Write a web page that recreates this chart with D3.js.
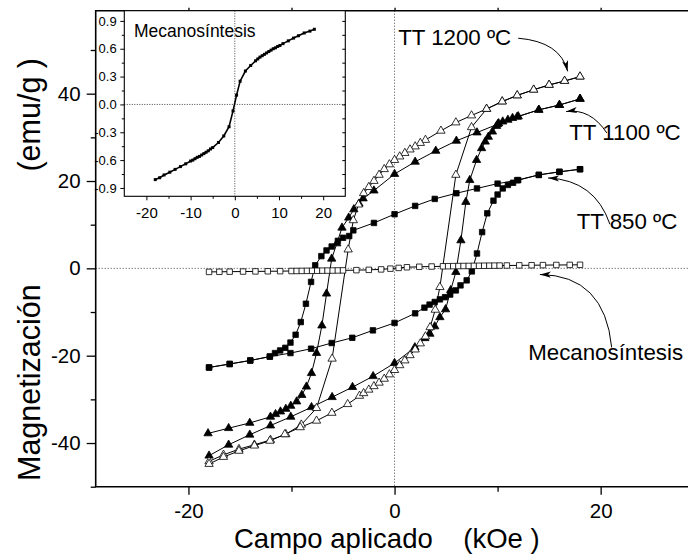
<!DOCTYPE html>
<html>
<head>
<meta charset="utf-8">
<script src="https://cdn.jsdelivr.net/npm/d3@7"></script>
<style>
  body { margin: 0; background: #fff; }
  text { font-family: "Liberation Sans", Arial, sans-serif; fill: #000; }
</style>
</head>
<body>
<div id="chart"></div>
<script>
// ---- data (H in kOe, M in emu/g) ----

// as-milled sample (open squares), also shown in the inset
const mecH = [-18,-17,-16,-14.7,-13.5,-12.3,-11.1,-10,-9.5,-9,-8.5,-8,-7.5,-7,-6.5,-6,-5.5,-5,-3.7,-2.5,-1.3,-0.4,0.4,1.2,2.4,3.6,4.7,5.2,5.7,6.2,6.7,7.2,7.7,8.2,8.7,9.2,9.7,10.2,10.9,12.1,13.3,14.4,15.7,17,18];
const mecM = [-0.81,-0.79,-0.76,-0.73,-0.70,-0.67,-0.64,-0.61,-0.60,-0.585,-0.57,-0.56,-0.545,-0.53,-0.515,-0.50,-0.48,-0.465,-0.41,-0.34,-0.24,-0.07,0.10,0.25,0.36,0.42,0.47,0.49,0.51,0.525,0.54,0.555,0.57,0.585,0.60,0.61,0.625,0.635,0.655,0.685,0.715,0.74,0.77,0.79,0.81];

// TT 850 ºC (filled squares)
const tt850UpH = [18,16,14,12,10,8,6,3.9,2,0,-2,-4,-4.4,-5,-5.5,-6.1,-6.6,-7.1,-7.7,-8.1,-8.6,-9.1,-9.6,-10.1,-10.6,-11.1,-11.6,-12.1,-14,-16,-18];
const tt850UpM = [22.7,22.1,21.4,20.2,19.4,18.3,17.2,15.9,14.3,12.4,10.4,8.7,7.4,7.0,6.3,5.0,4.1,2.8,0.7,-3.1,-8.1,-12.3,-15.2,-17.0,-18.2,-18.8,-19.4,-20.2,-21.1,-21.9,-22.7];
const tt850LowH = [-18,-16,-14,-12.1,-10.1,-8.1,-6.1,-4.1,-2.1,0,2,2.9,3.4,3.9,4.4,4.9,5.4,5.95,6.4,7,7.5,8,8.5,9,9.6,10,10.5,11,11.5,11.9,14,16,18];
const tt850LowM = [-22.7,-21.9,-21.1,-20.2,-19.4,-18.4,-17.1,-15.9,-14.2,-12.5,-10.3,-9.0,-8.3,-7.7,-7.1,-6.6,-6.0,-5.05,-3.9,-2.75,-0.7,3.4,8.3,12.6,15.5,16.9,18.3,19.1,19.6,20.2,21.4,22.1,22.7];

// TT 1100 ºC (filled triangles)
const tt1100UpH = [18,16,14,12,10,8,6,4,2,0,-2,-3.05,-3.45,-3.95,-4.45,-5.1,-5.6,-6.1,-6.6,-7.05,-7.57,-8.06,-8.55,-9,-9.5,-10.07,-10.55,-11.07,-11.55,-12.04,-14.05,-16.1,-18.1];
const tt1100UpM = [38.8,37.4,36.3,34.8,33.0,31.1,29.2,26.9,24.4,21.6,17.8,16.0,14.8,13.5,11.6,9.3,5.7,2.2,-5.8,-13.1,-19.4,-24.0,-27.1,-29.0,-30.5,-31.5,-32.2,-32.8,-33.4,-34.0,-35.4,-36.6,-37.8];
const tt1100LowH = [-18,-16.1,-14.05,-12.04,-10.07,-8.06,-6.06,-4.08,-2.08,0,1.97,2.94,3.43,3.9,4.4,4.95,5.45,5.95,6.44,6.92,7.3,7.96,8.45,8.8,9.1,9.5,9.9,10.1,10.5,11,11.45,11.9,14,16,18];
const tt1100LowM = [-42.9,-40.4,-38.1,-36.0,-34.0,-31.8,-29.5,-27.2,-24.7,-21.7,-18.1,-16.0,-15.0,-13.3,-11.2,-9.4,-5.0,-0.85,6.4,15.2,20.2,24.8,27.5,29.0,30.1,31.3,32.6,33.2,33.6,34.0,34.4,34.7,36.3,37.4,38.8];

// TT 1200 ºC (open triangles)
const tt1200UpH = [18,16.5,15,13.5,11.9,10.45,8.93,7.47,5.95,4.5,3,2.5,2,1.5,1,0.5,0,-0.5,-1,-1.5,-2,-2.5,-3,-3.5,-4,-4.5,-6.06,-7.57,-9.05,-10.55,-12.04,-13.6,-15.1,-16.6,-18];
const tt1200UpM = [43.9,42.9,42.0,40.9,39.6,38.2,36.5,35.0,33.4,31.5,29.4,28.7,27.9,27.2,26.4,25.6,24.8,23.8,22.7,21.4,20.0,18.6,17.2,14.6,11.0,4.3,-20.7,-32.0,-35.8,-38.0,-39.3,-40.4,-41.4,-42.7,-44.2];
const tt1200LowH = [-18,-16.6,-15.1,-13.6,-12.1,-10.65,-9.15,-7.57,-6.08,-4.55,-3.4,-3,-2.5,-2,-1.5,-1,-0.5,0,0.5,1,1.5,2,2.5,3,3.45,3.95,4.4,5.95,7.47,8.93,10.45,11.9,13.5,15,16.5,18];
const tt1200LowM = [-44.8,-43.2,-41.8,-40.6,-39.5,-38.0,-36.4,-34.9,-33.1,-31.1,-29.2,-28.6,-27.8,-27.0,-26.2,-25.3,-24.3,-23.3,-22.2,-21.1,-19.9,-18.6,-17.2,-15.6,-13.5,-9.5,-4.3,21.4,32.3,36.5,38.2,39.6,40.9,42.0,42.9,43.9];

// ticks
const xTicksMain = [-20, 0, 20];
const xMinorMain = [-10, 10];
const yTicksMain = [-40, -20, 0, 20, 40];
const yMinorMain = [-50, -30, -10, 10, 30, 50];
const xTicksInset = [-20, -10, 0, 10, 20];
const xMinorInset = [-15, -5, 5, 15];
const yTicksInset = [-0.9, -0.6, -0.3, 0, 0.3, 0.6, 0.9];
const yMinorInset = [-0.75, -0.45, -0.15, 0.15, 0.45, 0.75];

// labels: [text, H, M]
const labels = [
  ["TT 1200 ºC", 0.35, 51.2],
  ["TT 1100 ºC", 16.95, 29.4],
  ["TT 850 ºC", 17.67, 8.9],
  ["Mecanosíntesis", 12.97, -21.1]
];
// arrows: start, control, tip (H, M)
const arrows = [
  [[12.0, 52.7], [16.1, 51.9], [16.8, 45.1]],
  [[20.6, 31.0], [19.0, 36.7], [16.65, 35.9]],
  [[20.9, 10.1], [19.45, 20.2], [14.9, 20.7]],
  [[21.07, -18.1], [20.4, -1.6], [14.1, -1.4]]
];

function drawChart() {
  const dimensions = {
    width: 688,
    height: 554,
    left: 95.7,
    top: 10.7,
    bottom: 486.7
  };

  const svg = d3.select("#chart")
    .append("svg")
      .attr("width", dimensions.width)
      .attr("height", dimensions.height);

  const xScale = d3.scaleLinear()
    .domain([-29, 29])
    .range([dimensions.left, dimensions.left + 58 * 10.305]);

  const yScale = d3.scaleLinear()
    .domain([-50, 59])
    .range([dimensions.bottom, dimensions.top]);

  // zero lines
  svg.append("line")
    .attr("x1", dimensions.left).attr("x2", dimensions.width)
    .attr("y1", yScale(0)).attr("y2", yScale(0))
    .attr("stroke", "#444").attr("stroke-width", 1)
    .attr("stroke-dasharray", "1,2");
  svg.append("line")
    .attr("x1", xScale(0)).attr("x2", xScale(0))
    .attr("y1", dimensions.top).attr("y2", dimensions.bottom)
    .attr("stroke", "#444").attr("stroke-width", 1)
    .attr("stroke-dasharray", "1,2");

  const line = d3.line()
    .x(d => xScale(d[0]))
    .y(d => yScale(d[1]));

  const zip = (h, m) => h.map((v, i) => [v, m[i]]);

  const series = [
    { branches: [zip(tt850UpH, tt850UpM), zip(tt850LowH, tt850LowM)], type: d3.symbolSquare, size: 30, fill: "#000" },
    { branches: [zip(tt1100UpH, tt1100UpM), zip(tt1100LowH, tt1100LowM)], type: d3.symbolTriangle, size: 30, fill: "#000" },
    { branches: [zip(tt1200UpH, tt1200UpM), zip(tt1200LowH, tt1200LowM)], type: d3.symbolTriangle, size: 30, fill: "#fff" },
    { branches: [zip(mecH, mecM)], type: d3.symbolSquare, size: 30, fill: "#fff" }
  ];

  series.forEach(s => {
    const g = svg.append("g");
    s.branches.forEach(b => {
      g.append("path")
        .attr("d", line(b))
        .attr("fill", "none")
        .attr("stroke", "#000")
        .attr("stroke-width", 1);
    });
    s.branches.forEach(b => {
      g.selectAll(null)
        .data(b)
        .join("path")
          .attr("d", d3.symbol().type(s.type).size(s.size))
          .attr("transform", d => `translate(${xScale(d[0])},${yScale(d[1])})`)
          .attr("fill", s.fill)
          .attr("stroke", "#000")
          .attr("stroke-width", 0.8);
    });
  });

  // axes
  const fmt = d => String(d);
  const xAxis = svg.append("g")
    .attr("transform", `translate(0,${dimensions.bottom})`)
    .call(d3.axisBottom(xScale).tickValues(xTicksMain).tickSize(8).tickSizeOuter(0).tickFormat(fmt));
  xAxis.select(".domain").remove();
  svg.append("g")
    .attr("transform", `translate(0,${dimensions.bottom})`)
    .call(d3.axisBottom(xScale).tickValues(xMinorMain).tickSize(5).tickFormat(""))
    .select(".domain").remove();

  const yAxis = svg.append("g")
    .attr("transform", `translate(${dimensions.left},0)`)
    .call(d3.axisLeft(yScale).tickValues(yTicksMain).tickSize(9).tickSizeOuter(0).tickFormat(fmt));
  yAxis.select(".domain").remove();
  svg.append("g")
    .attr("transform", `translate(${dimensions.left},0)`)
    .call(d3.axisLeft(yScale).tickValues(yMinorMain).tickSize(5).tickFormat(""))
    .select(".domain").remove();

  // top axis ticks
  svg.append("g")
    .attr("transform", `translate(0,${dimensions.top})`)
    .call(d3.axisTop(xScale).tickValues(xTicksMain.concat(xMinorMain)).tickSize(3).tickFormat(""))
    .select(".domain").remove();

  svg.selectAll(".tick line").attr("stroke", "#000").attr("stroke-width", 1.3);
  svg.selectAll(".tick text")
    .attr("font-size", 20.5)
    .attr("font-family", "Liberation Sans, Arial, sans-serif");
  xAxis.selectAll(".tick text").attr("dy", "1.0em");
  yAxis.selectAll(".tick text").attr("dx", "-0.15em");

  // frame lines
  svg.append("path")
    .attr("d", d3.line()([
      [dimensions.width, dimensions.top],
      [dimensions.left, dimensions.top],
      [dimensions.left, dimensions.bottom],
      [dimensions.width, dimensions.bottom]
    ]))
    .attr("fill", "none")
    .attr("stroke", "#000")
    .attr("stroke-width", 1.6);

  // axis titles
  svg.append("text")
    .attr("x", 234).attr("y", 548)
    .attr("text-anchor", "start")
    .attr("font-size", 27.5)
    .text("Campo aplicado\u00a0\u00a0\u00a0\u00a0(kOe )");
  svg.append("text")
    .attr("transform", "translate(40,481) rotate(-90)")
    .attr("text-anchor", "start")
    .attr("font-size", 30.5)
    .text("Magnetización");
  svg.append("text")
    .attr("transform", "translate(40,58) rotate(-90)")
    .attr("text-anchor", "end")
    .attr("font-size", 30.5)
    .text("(emu/g )");

  // annotations
  svg.append("defs").append("marker")
    .attr("id", "head")
    .attr("viewBox", "0 0 10 10")
    .attr("refX", 10).attr("refY", 5)
    .attr("markerWidth", 11).attr("markerHeight", 11)
    .attr("markerUnits", "userSpaceOnUse")
    .attr("orient", "auto")
    .append("path")
      .attr("d", "M0,2.2 L10,5 L0,7.8 L2.5,5 Z")
      .attr("fill", "#000");

  arrows.forEach(a => {
    const p = d3.path();
    p.moveTo(xScale(a[0][0]), yScale(a[0][1]));
    p.quadraticCurveTo(xScale(a[1][0]), yScale(a[1][1]), xScale(a[2][0]), yScale(a[2][1]));
    svg.append("path")
      .attr("d", p.toString())
      .attr("fill", "none")
      .attr("stroke", "#000")
      .attr("stroke-width", 1)
      .attr("marker-end", "url(#head)");
  });

  svg.selectAll(null)
    .data(labels)
    .join("text")
      .attr("x", d => xScale(d[1]))
      .attr("y", d => yScale(d[2]))
      .attr("font-size", 22.3)
      .text(d => d[0]);

  // ---- inset ----
  const inset = { left: 124.3, right: 345.3, top: 10.7, bottom: 196.3 };

  const ix = d3.scaleLinear().domain([-25, 25]).range([inset.left, inset.right]);
  const iy = d3.scaleLinear().domain([-0.99, 1.01]).range([inset.bottom, inset.top]);

  svg.append("rect")
    .attr("x", inset.left).attr("y", inset.top)
    .attr("width", inset.right - inset.left)
    .attr("height", inset.bottom - inset.top)
    .attr("fill", "#fff");

  svg.append("line")
    .attr("x1", inset.left).attr("x2", inset.right)
    .attr("y1", iy(0)).attr("y2", iy(0))
    .attr("stroke", "#444").attr("stroke-dasharray", "1,1.5");
  svg.append("line")
    .attr("x1", ix(0)).attr("x2", ix(0))
    .attr("y1", inset.top).attr("y2", inset.bottom)
    .attr("stroke", "#444").attr("stroke-dasharray", "1,1.5");

  const mec = zip(mecH, mecM);
  svg.append("path")
    .attr("d", d3.line().x(d => ix(d[0])).y(d => iy(d[1]))(mec))
    .attr("fill", "none")
    .attr("stroke", "#000")
    .attr("stroke-width", 1.6);
  svg.selectAll(null)
    .data(mec)
    .join("rect")
      .attr("x", d => ix(d[0]) - 1.5)
      .attr("y", d => iy(d[1]) - 1.5)
      .attr("width", 3).attr("height", 3)
      .attr("fill", "#000");

  const ixAxis = svg.append("g")
    .attr("transform", `translate(0,${inset.bottom})`)
    .call(d3.axisBottom(ix).tickValues(xTicksInset).tickSize(4).tickSizeOuter(0).tickFormat(fmt));
  ixAxis.select(".domain").remove();
  ixAxis.selectAll(".tick text").attr("font-size", 15).attr("dy", "0.95em");
  svg.append("g")
    .attr("transform", `translate(0,${inset.bottom})`)
    .call(d3.axisBottom(ix).tickValues(xMinorInset).tickSize(2.5).tickFormat(""))
    .select(".domain").remove();

  const iyAxis = svg.append("g")
    .attr("transform", `translate(${inset.left},0)`)
    .call(d3.axisLeft(iy).tickValues(yTicksInset).tickSize(4).tickSizeOuter(0).tickFormat(d => d.toFixed(1)));
  iyAxis.select(".domain").remove();
  iyAxis.selectAll(".tick text").attr("font-size", 13).attr("dx", "-0.05em");
  svg.append("g")
    .attr("transform", `translate(${inset.left},0)`)
    .call(d3.axisLeft(iy).tickValues(yMinorInset).tickSize(2.5).tickFormat(""))
    .select(".domain").remove();

  // inward ticks on the right side of the inset
  svg.append("g")
    .attr("transform", `translate(${inset.right},0)`)
    .call(d3.axisLeft(iy).tickValues(yTicksInset.concat(yMinorInset)).tickSize(3).tickFormat(""))
    .select(".domain").remove();

  svg.selectAll(".tick line").attr("stroke", "#000");
  svg.selectAll(".tick text").attr("font-family", "Liberation Sans, Arial, sans-serif").attr("fill", "#000");

  svg.append("rect")
    .attr("x", inset.left).attr("y", inset.top)
    .attr("width", inset.right - inset.left)
    .attr("height", inset.bottom - inset.top)
    .attr("fill", "none")
    .attr("stroke", "#000")
    .attr("stroke-width", 1.1);

  svg.append("text")
    .attr("x", ix(-22.8)).attr("y", 36.7)
    .attr("font-size", 17.5)
    .text("Mecanosíntesis");
}

drawChart();
</script>
</body>
</html>
